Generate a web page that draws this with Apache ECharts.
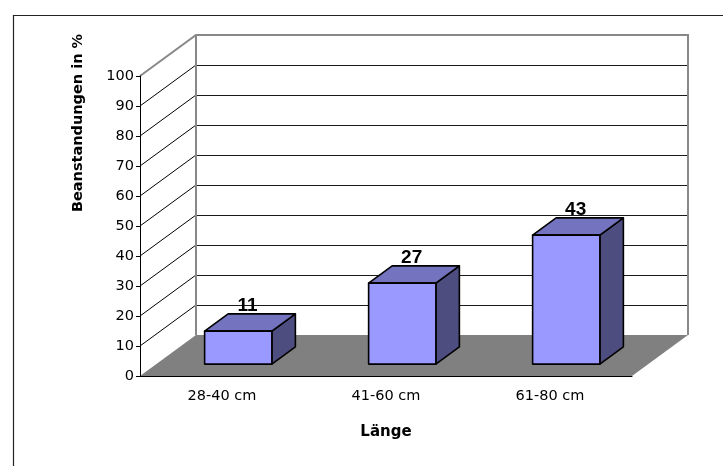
<!DOCTYPE html>
<html>
<head>
<meta charset="utf-8">
<script src="https://cdn.jsdelivr.net/npm/echarts@6/dist/echarts.min.js"></script>
<style>
  html, body { margin: 0; padding: 0; background: #fff; }
  #chart { width: 723px; height: 466px; }
</style>
</head>
<body>
<div id="chart"></div>
<script>
// Categories and values of the column chart
const categories = ['28-40 cm', '41-60 cm', '61-80 cm'];
const values = [11, 27, 43];
// Value axis ticks and the wall grid lines
const yMin = 0, yMax = 100, yStep = 10;
const wallLines = [10, 20, 30, 40, 50, 60, 70, 80, 90];
const xTitle = 'Länge';
const yTitle = 'Beanstandungen in %';

// 3D projection: offset of the back wall relative to the front plane
const DX = 56, DY = -41;
// Column depth range (fraction of full depth) and width (fraction of category)
const F0 = 0.29, F1 = 0.71, BAR_W = 0.41;

const chart = echarts.init(document.getElementById('chart'), null, { renderer: 'canvas' });

// snap a coordinate to the pixel centre so 1px lines stay crisp
function crisp(v) { return Math.round(v) + 0.5; }

function renderScene(params, api) {
  const cs = params.coordSys;
  const x0 = cs.x, x1 = cs.x + cs.width;
  const y0 = api.coord([0, yMin])[1];
  const yTop = api.coord([0, yMax])[1];
  const children = [];
  // back wall
  children.push({
    type: 'rect',
    shape: { x: x0 + DX, y: yTop + DY, width: x1 - x0, height: y0 - yTop },
    style: { fill: '#ffffff' }
  });
  wallLines.forEach(function (v) {
    const y = api.coord([0, v])[1];
    children.push({
      type: 'line',
      shape: { x1: x0 + DX, y1: crisp(y + DY), x2: x1 + DX, y2: crisp(y + DY) },
      style: { stroke: '#1a1a1a', lineWidth: 1 }
    });
    children.push({
      type: 'line',
      shape: { x1: x0, y1: y, x2: x0 + DX, y2: y + DY },
      style: { stroke: '#000000', lineWidth: 1 }
    });
  });
  // wall outline
  children.push({
    type: 'polyline',
    shape: { points: [[x0, yTop], [x0 + DX, yTop + DY], [x1 + DX, yTop + DY], [x1 + DX, y0 + DY]] },
    style: { stroke: '#888888', lineWidth: 2, fill: null }
  });
  children.push({
    type: 'line',
    shape: { x1: x0 + DX, y1: yTop + DY, x2: x0 + DX, y2: y0 + DY },
    style: { stroke: '#888888', lineWidth: 2 }
  });
  // floor
  children.push({
    type: 'polygon',
    shape: { points: [[x0, y0], [x1, y0], [x1 + DX, y0 + DY], [x0 + DX, y0 + DY]] },
    style: { fill: '#808080' }
  });
  return { type: 'group', children: children };
}

function renderBar(params, api) {
  const idx = api.value(0);
  const v = api.value(1);
  const base = api.coord([idx, 0]);
  const top = api.coord([idx, v]);
  const bw = api.size([1, 0])[0] * BAR_W;
  const ox = F0 * DX, oy = F0 * DY;
  const dx = (F1 - F0) * DX, dy = (F1 - F0) * DY;
  const L = base[0] - bw / 2 + ox, R = base[0] + bw / 2 + ox;
  const T = top[1] + oy, B = base[1] + oy;
  const edge = { stroke: '#000000', lineWidth: 1.6, lineJoin: 'round' };
  return {
    type: 'group',
    children: [
      {
        type: 'polygon',
        shape: { points: [[R, T], [R + dx, T + dy], [R + dx, B + dy], [R, B]] },
        style: Object.assign({ fill: '#4d4d80' }, edge)
      },
      {
        type: 'polygon',
        shape: { points: [[L, T], [R, T], [R + dx, T + dy], [L + dx, T + dy]] },
        style: Object.assign({ fill: '#7373bf' }, edge)
      },
      {
        type: 'rect',
        shape: { x: L, y: T, width: R - L, height: B - T },
        style: Object.assign({ fill: '#9999ff' }, edge)
      },
      {
        type: 'text',
        style: {
          text: String(v),
          x: (L + R) / 2 + dx * 0.4,
          y: T + dy - 8.5,
          align: 'center',
          verticalAlign: 'middle',
          font: 'bold 19px "Liberation Sans", Arial, sans-serif',
          fill: '#000000'
        }
      }
    ]
  };
}

const option = {
  animation: false,
  backgroundColor: '#ffffff',
  grid: { left: 140, right: 91, top: 76, bottom: 90 },
  xAxis: {
    type: 'category',
    data: categories,
    boundaryGap: true,
    name: xTitle,
    nameLocation: 'middle',
    nameGap: 49,
    nameTextStyle: { fontFamily: 'DejaVu Sans', fontWeight: 'bold', fontSize: 15, color: '#000' },
    axisLine: { lineStyle: { color: '#000', width: 1 } },
    axisTick: { length: 5, lineStyle: { color: '#000' } },
    axisLabel: { margin: 13, fontFamily: 'DejaVu Sans', fontSize: 14.5, color: '#000' },
    splitLine: { show: false }
  },
  yAxis: {
    type: 'value',
    min: yMin,
    max: yMax,
    interval: yStep,
    axisLine: { show: true, lineStyle: { color: '#000', width: 1 } },
    axisTick: { show: true, length: 4, lineStyle: { color: '#000' } },
    axisLabel: { margin: 6, fontFamily: 'DejaVu Sans', fontSize: 14.5, color: '#000' },
    splitLine: { show: false }
  },
  graphic: [
    {
      type: 'rect',
      shape: { x: 13.5, y: 15.5, width: 740, height: 480 },
      style: { fill: null, stroke: '#222', lineWidth: 1.2 },
      z: 100
    },
    {
      type: 'text',
      x: 78,
      y: 123,
      rotation: Math.PI / 2,
      style: {
        text: yTitle,
        align: 'center',
        verticalAlign: 'middle',
        font: 'bold 14.5px "DejaVu Sans", sans-serif',
        fill: '#000'
      }
    }
  ],
  series: [
    {
      type: 'custom',
      z: -1,
      renderItem: renderScene,
      data: [[0, 0]],
      silent: true
    },
    {
      type: 'custom',
      z: 3,
      renderItem: renderBar,
      data: values.map(function (v, i) { return [i, v]; })
    }
  ]
};

chart.setOption(option);
</script>
</body>
</html>
